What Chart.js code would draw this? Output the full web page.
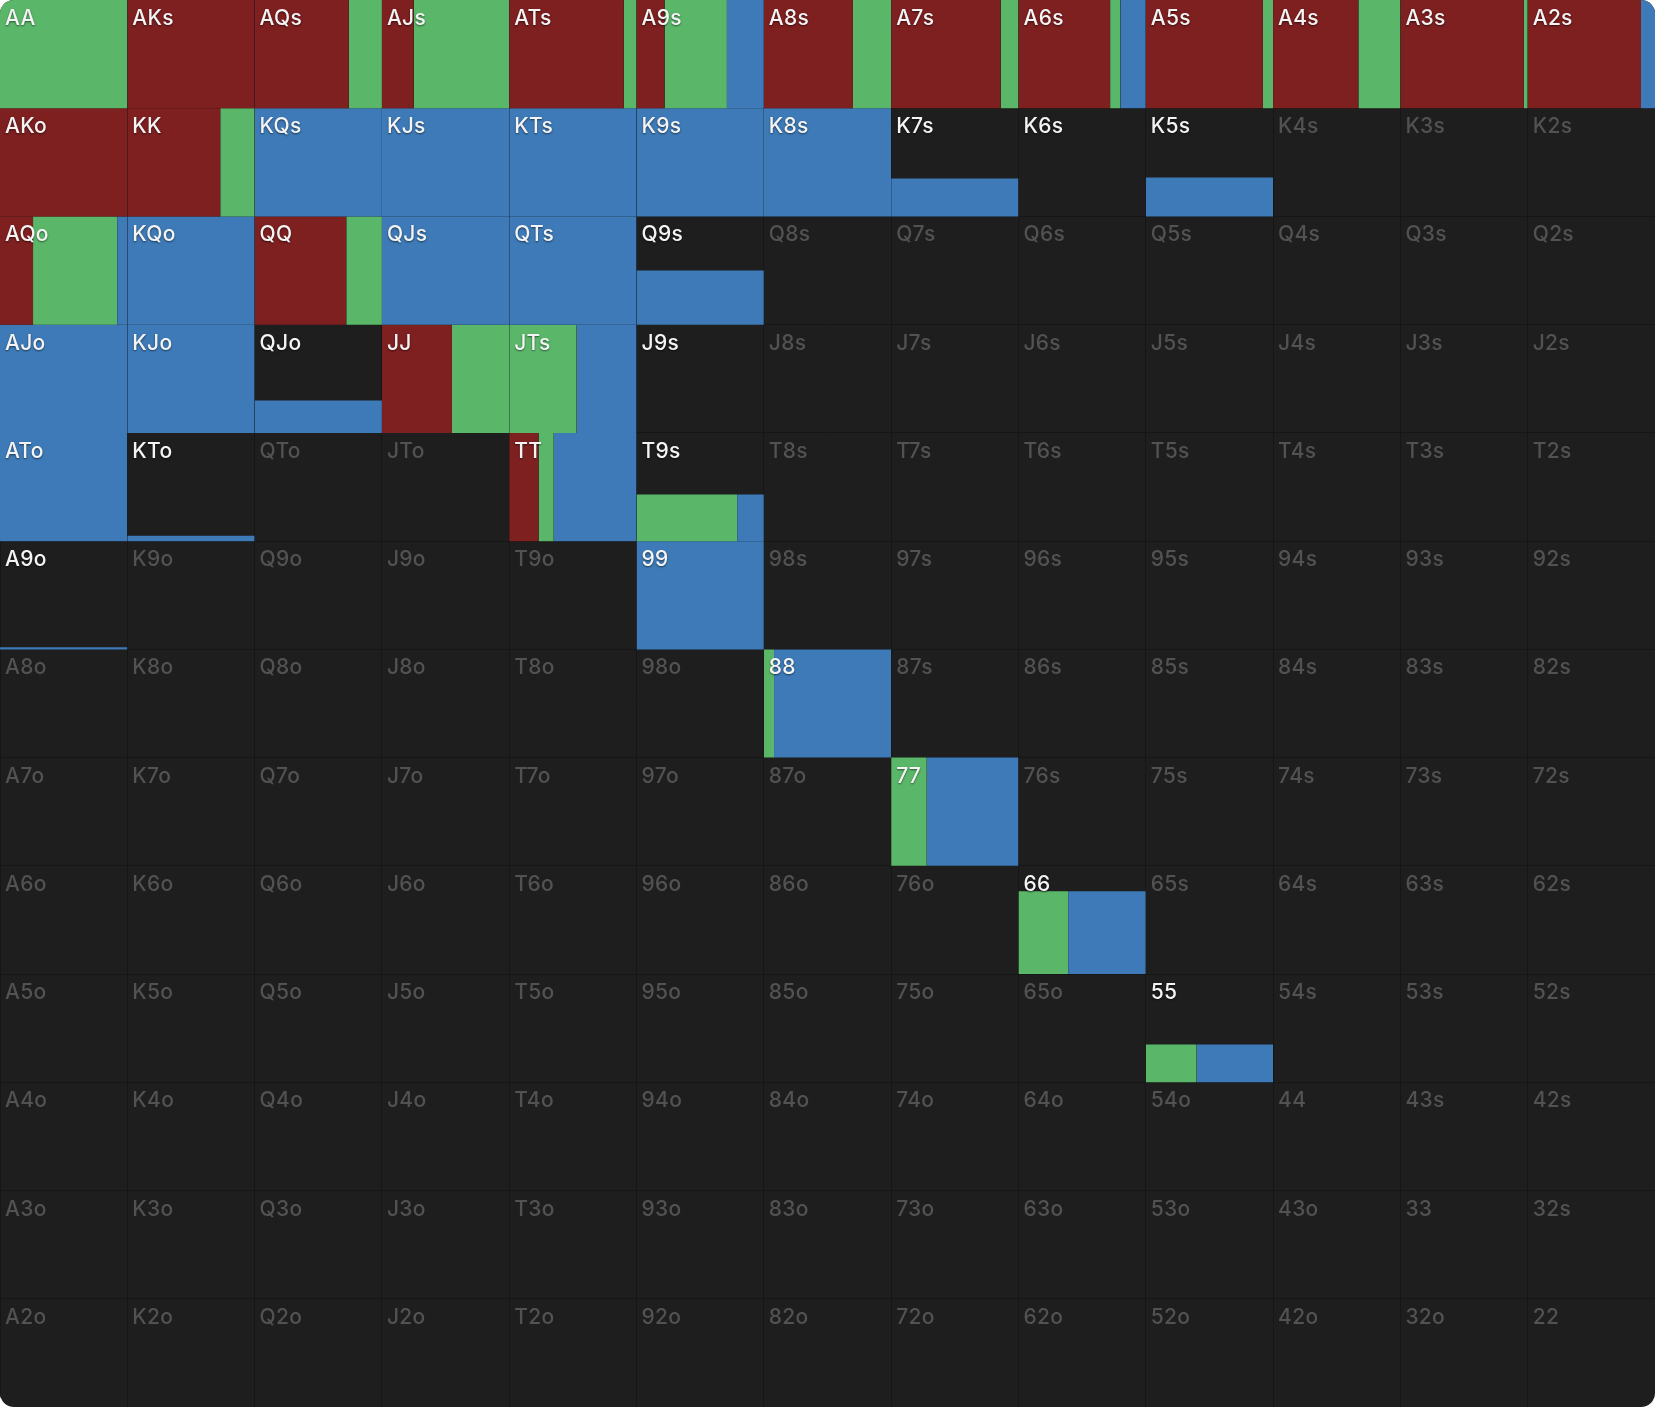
<!DOCTYPE html>
<html>
<head>
<meta charset="utf-8">
<title>Range</title>
<script src="https://cdn.jsdelivr.net/npm/chart.js@4.4.1/dist/chart.umd.min.js"></script>
<style>
  html, body { margin: 0; padding: 0; background: #ffffff; }
  #wrap { width: 1655px; height: 1407px; border-radius: 14px; overflow: hidden; background: #1e1e1e; }
  canvas { display: block; }
</style>
</head>
<body>
<div id="wrap"><canvas id="rangeChart"></canvas></div>
<script>
const ranks = ['A', 'K', 'Q', 'J', 'T', '9', '8', '7', '6', '5', '4', '3', '2'];

// hands that are in the range (white labels)
const hands = [
  'AA', 'AKs', 'AQs', 'AJs', 'ATs', 'A9s', 'A8s', 'A7s', 'A6s', 'A5s', 'A4s', 'A3s', 'A2s',
  'AKo', 'KK', 'KQs', 'KJs', 'KTs', 'K9s', 'K8s', 'K7s', 'K6s', 'K5s',
  'AQo', 'KQo', 'QQ', 'QJs', 'QTs', 'Q9s',
  'AJo', 'KJo', 'QJo', 'JJ', 'JTs', 'J9s',
  'ATo', 'KTo', 'TT', 'T9s',
  'A9o', '99', '88', '77', '66', '55'
];

const raiseFreq = [
  0, 1, .74, .25, .90, .22, .70, .86, .72, .92, .67, .97, .89,
  1, .73, 0, 0, 0, 0, 0, 0, 0, 0,
  .26, 0, .72, 0, 0, 0,
  0, 0, 0, .55, 0, 0,
  0, 0, .23, 0,
  0, 0, 0, 0, 0, 0
];

const callFreq = [
  1, 0, .26, .75, .10, .49, .30, .14, .08, .08, .33, .03, 0,
  0, .27, 0, 0, 0, 0, 0, 0, 0, 0,
  .66, 0, .28, 0, 0, 0,
  0, 0, 0, .45, .53, 0,
  0, 0, .12, .79,
  0, 0, .08, .28, .39, .40
];

const foldFreq = [
  0, 0, 0, 0, 0, .29, 0, 0, .20, 0, 0, 0, .11,
  0, 0, 1, 1, 1, 1, 1, 1, 0, 1,
  .08, 1, 0, 1, 1, 1,
  1, 1, 1, 0, .47, 0,
  1, 1, .65, .21,
  1, 1, .92, .72, .61, .60
];

// share of the combos kept (bar height in the cell)
const handWeight = [
  1, 1, 1, 1, 1, 1, 1, 1, 1, 1, 1, 1, 1,
  1, 1, 1, 1, 1, 1, 1, .35, 0, .36,
  1, 1, 1, 1, 1, .50,
  1, 1, .30, 1, 1, 0,
  1, .05, 1, .43,
  .02, 1, 1, 1, .765, .35
];

const colors = { raise: '#7e1f20', call: '#5ab769', fold: '#3d7ab7' };

// row / col of a hand in the 13x13 grid
function cellOf(hand) {
  const r1 = ranks.indexOf(hand[0]);
  const r2 = ranks.indexOf(hand[1]);
  if (hand[2] === 'o') return { row: r2, col: r1 };
  return { row: r1, col: r2 };
}

function handName(row, col) {
  if (row === col) return ranks[row] + ranks[col];
  if (col > row) return ranks[row] + ranks[col] + 's';
  return ranks[col] + ranks[row] + 'o';
}

// one filled segment per action
const datasets = [];
hands.forEach((hand, i) => {
  if (!handWeight[i]) return;
  const { row, col } = cellOf(hand);
  const top = row + 1 - handWeight[i];
  let left = col;
  [['raise', raiseFreq[i]], ['call', callFreq[i]], ['fold', foldFreq[i]]].forEach(([action, f]) => {
    if (!f) return;
    datasets.push({
      label: hand + ' ' + action,
      data: [{ x: left, y: top }, { x: left + f, y: top }],
      fill: { value: row + 1 },
      backgroundColor: colors[action],
      borderColor: colors[action],
      borderWidth: 0,
      pointRadius: 0,
      pointHoverRadius: 0,
      tension: 0
    });
    left += f;
  });
});

// hand names in the top-left corner of each cell
const handLabels = {
  id: 'handLabels',
  afterDraw(chart) {
    const { ctx, scales: { x, y } } = chart;
    ctx.save();
    ctx.font = '500 21px Inter, "Noto Sans", sans-serif';
    ctx.letterSpacing = '0.3px';
    ctx.textBaseline = 'alphabetic';
    ctx.textAlign = 'left';
    for (let row = 0; row < 13; row++) {
      for (let col = 0; col < 13; col++) {
        const name = handName(row, col);
        const active = hands.includes(name);
        const px = x.getPixelForValue(col) + 5;
        const py = y.getPixelForValue(row) + 25;
        if (active) {
          ctx.fillStyle = '#f4f4f4';
          ctx.shadowColor = 'rgba(0, 0, 0, 0.55)';
          ctx.shadowBlur = 2;
          ctx.shadowOffsetX = 0;
          ctx.shadowOffsetY = 1;
        } else {
          ctx.fillStyle = '#525252';
          ctx.shadowColor = 'transparent';
        }
        ctx.fillText(name, px, py);
      }
    }
    ctx.restore();
  }
};

const gridScale = {
  type: 'linear',
  min: 0,
  max: 13,
  display: true,
  z: 1,
  ticks: { display: false, stepSize: 1 },
  grid: { color: '#161616', lineWidth: 1, drawTicks: false },
  border: { display: false }
};

new Chart(document.getElementById('rangeChart'), {
  type: 'line',
  data: { datasets },
  options: {
    responsive: true,
    maintainAspectRatio: false,
    animation: false,
    events: [],
    layout: { padding: 0 },
    plugins: {
      legend: { display: false },
      tooltip: { enabled: false }
    },
    scales: {
      x: { ...gridScale },
      y: { ...gridScale, reverse: true }
    }
  },
  plugins: [handLabels]
});
</script>
</body>
</html>
